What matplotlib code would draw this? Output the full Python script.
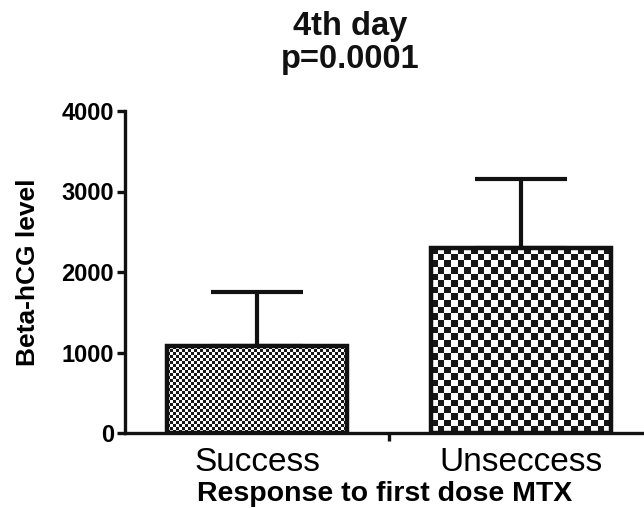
import numpy as np
import matplotlib
matplotlib.use("Agg")
import matplotlib.pyplot as plt
from matplotlib.ticker import FixedLocator

plt.rcParams['font.family'] = ['Liberation Sans', 'DejaVu Sans']

# data
groups = ["Success", "Unseccess"]
means = [1080, 2300]
sd_up = [670, 860]
yticks = [0, 1000, 2000, 3000, 4000]
checker_px = [3.0, 6.7]   # size of one checker square, in pixels

fig = plt.figure(figsize=(6.44, 5.08), dpi=100)
ax = fig.add_axes([125 / 644, 75 / 508, 519 / 644, 322 / 508])

x = np.arange(len(groups))
width = 0.68
ax.set_xlim(-0.5, 1.466)
ax.set_ylim(0, 4000)

bars = ax.bar(x, means, width=width, facecolor='none', edgecolor='#111111',
              linewidth=3.2, zorder=3)

# checkerboard fill clipped to each bar
fig.canvas.draw()
for bar, cell in zip(bars, checker_px):
    bb = bar.get_window_extent()
    nx = max(1, int(round(bb.width / cell)))
    ny = max(1, int(round(bb.height / cell)))
    board = (np.indices((ny, nx)).sum(axis=0) % 2).astype(float)
    x0 = bar.get_x()
    im = ax.imshow(board, extent=(x0, x0 + bar.get_width(), 0, bar.get_height()),
                   cmap='gray', vmin=-0.1, vmax=1, interpolation='nearest',
                   aspect='auto', zorder=2)
    im.set_clip_path(bar)

ax.errorbar(x, means, yerr=[np.zeros(len(means)), sd_up], fmt='none',
            ecolor='#111111', elinewidth=3, capsize=33, capthick=3, zorder=1)

ax.set_xlim(-0.5, 1.466)
ax.set_ylim(0, 4000)

for s in ['top', 'right']:
    ax.spines[s].set_visible(False)
for s in ['left', 'bottom']:
    ax.spines[s].set_linewidth(2.4)
    ax.spines[s].set_color('#111111')

ax.set_yticks(yticks)
ax.tick_params(axis='y', length=6, width=2.4, color='#111111', pad=2,
               labelsize=17)
for t in ax.get_yticklabels():
    t.set_fontweight('bold')

ax.set_xticks(x)
ax.set_xticklabels(groups, fontsize=24)
ax.tick_params(axis='x', which='major', length=0, pad=10)
ax.xaxis.set_minor_locator(FixedLocator([0.5]))
ax.tick_params(axis='x', which='minor', length=6, width=2.4, color='#111111')

ax.set_xlabel("Response to first dose MTX", fontsize=20.5, fontweight='bold',
              labelpad=2)
ax.set_ylabel("Beta-hCG level", fontsize=19, fontweight='bold', labelpad=15)

fig.text(350 / 644, 1 - 43 / 508, "4th day\np=0.0001", ha='center', va='center',
         fontsize=23.5, fontweight='bold', linespacing=1.12, color='#111111')

fig.savefig("out.png", dpi=100)
